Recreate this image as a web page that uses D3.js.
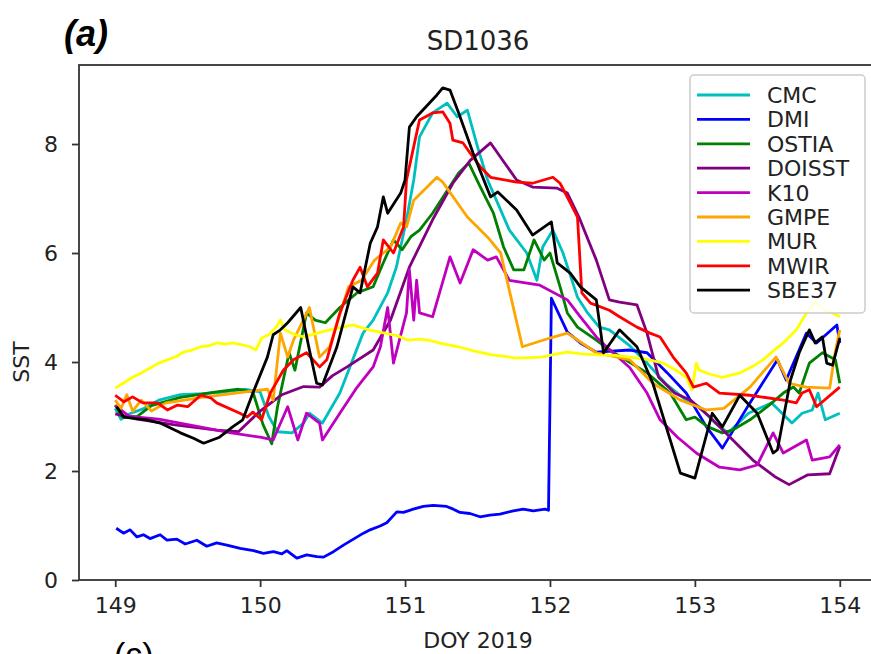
<!DOCTYPE html>
<html>
<head>
    <meta charset="utf-8">
    <title>SD1036</title>
    <style>
        body { margin: 0; background: white; }
        svg { font-family: 'DejaVu Sans', sans-serif; }
    </style>
</head>
<body>
    <div id="chart"></div>

    <script src="https://cdn.jsdelivr.net/npm/d3@7"></script>

    <script>
        // [DOY, SST]
        const cmc = [[149.0,3.15],[149.04,2.95],[149.1,3.05],[149.2,3.15],[149.3,3.3],[149.45,3.4],[149.6,3.42],[149.75,3.45],[149.9,3.5],[150.0,3.45],[150.06,3.0],[150.12,2.72],[150.22,2.7],[150.3,2.88],[150.34,3.06],[150.43,2.88],[150.55,3.43],[150.71,4.53],[150.78,4.77],[150.88,5.27],[150.94,5.74],[151.01,6.61],[151.06,7.34],[151.1,8.13],[151.19,8.57],[151.29,8.75],[151.36,8.5],[151.43,8.62],[151.5,7.95],[151.57,7.34],[151.63,6.97],[151.72,6.42],[151.84,6.0],[151.91,5.5],[151.95,6.11],[152.02,6.42],[152.09,6.0],[152.19,5.19],[152.26,4.9],[152.34,4.64],[152.41,4.59],[152.55,4.3],[152.67,3.98],[152.8,3.6],[152.94,3.3],[153.03,3.18],[153.14,2.88],[153.23,2.7],[153.37,3.06],[153.53,3.25],[153.67,2.88],[153.74,3.06],[153.81,3.12],[153.85,3.43],[153.9,2.94],[154.0,3.06]];

        const dmi = [[149.007,0.95],[149.057,0.86],[149.103,0.92],[149.15,0.79],[149.195,0.83],[149.24,0.76],[149.31,0.83],[149.357,0.73],[149.425,0.75],[149.483,0.66],[149.563,0.73],[149.632,0.62],[149.70,0.68],[149.77,0.64],[149.862,0.58],[149.954,0.54],[150.023,0.49],[150.092,0.52],[150.15,0.48],[150.184,0.54],[150.253,0.40],[150.322,0.46],[150.391,0.43],[150.437,0.42],[150.506,0.52],[150.575,0.64],[150.644,0.75],[150.713,0.86],[150.759,0.92],[150.828,0.99],[150.874,1.05],[150.943,1.25],[150.989,1.24],[151.057,1.30],[151.126,1.35],[151.195,1.37],[151.287,1.35],[151.333,1.30],[151.379,1.24],[151.448,1.22],[151.517,1.16],[151.586,1.19],[151.655,1.21],[151.747,1.27],[151.816,1.30],[151.885,1.27],[151.966,1.30],[151.99,1.28],[152.01,5.17],[152.12,4.55],[152.21,4.35],[152.32,4.18],[152.55,4.22],[152.67,4.17],[152.81,3.8],[152.94,3.43],[153.08,2.81],[153.19,2.42],[153.38,3.25],[153.57,4.04],[153.63,3.67],[153.77,4.53],[153.84,4.35],[153.98,4.68],[154.0,4.35]];

        const ostia = [[149.0,3.21],[149.05,2.99],[149.15,3.0],[149.25,3.2],[149.45,3.35],[149.7,3.45],[149.85,3.5],[149.95,3.45],[150.02,2.85],[150.08,2.5],[150.12,3.18],[150.2,4.17],[150.24,3.85],[150.32,4.9],[150.38,4.77],[150.45,4.72],[150.55,5.0],[150.67,5.27],[150.78,5.38],[150.85,5.82],[150.92,6.24],[150.98,6.06],[151.04,6.3],[151.1,6.42],[151.19,6.73],[151.28,7.1],[151.37,7.47],[151.44,7.65],[151.52,7.21],[151.61,6.73],[151.68,6.11],[151.75,5.69],[151.82,5.69],[151.89,6.24],[151.96,5.87],[152.0,6.0],[152.07,5.38],[152.12,4.9],[152.19,4.64],[152.32,4.4],[152.41,4.22],[152.67,3.8],[152.83,3.43],[152.94,2.94],[153.0,2.99],[153.09,2.81],[153.19,2.7],[153.26,2.75],[153.38,2.94],[153.5,3.18],[153.61,3.43],[153.68,3.54],[153.72,3.43],[153.79,3.98],[153.88,4.17],[153.97,4.04],[154.0,3.61]];

        const doisst = [[149.0,3.05],[149.15,2.95],[149.4,2.85],[149.7,2.75],[149.85,2.72],[150.0,3.1],[150.15,3.4],[150.3,3.55],[150.41,3.54],[150.5,3.75],[150.6,3.91],[150.78,4.22],[150.9,4.77],[151.03,5.74],[151.19,6.61],[151.33,7.28],[151.45,7.7],[151.59,8.02],[151.77,7.34],[151.88,7.21],[152.05,7.19],[152.12,7.1],[152.2,6.66],[152.32,5.87],[152.41,5.14],[152.48,5.1],[152.6,5.05],[152.67,4.53],[152.75,3.72],[152.86,3.43],[152.97,3.3],[153.1,3.0],[153.25,2.6],[153.4,2.2],[153.55,1.9],[153.65,1.75],[153.78,1.93],[153.93,1.95],[154.0,2.45]];

        const k10 = [[149.0,3.2],[149.1,3.0],[149.3,2.95],[149.5,2.85],[149.8,2.7],[150.0,2.62],[150.09,2.57],[150.19,3.18],[150.26,2.57],[150.32,3.06],[150.41,2.88],[150.43,2.57],[150.55,3.06],[150.67,3.54],[150.78,3.91],[150.83,4.28],[150.88,5.0],[150.92,3.98],[151.01,4.9],[151.03,5.69],[151.06,4.77],[151.08,5.5],[151.1,4.9],[151.19,4.83],[151.31,5.93],[151.38,5.45],[151.47,6.06],[151.57,5.87],[151.63,5.93],[151.72,5.5],[151.93,5.41],[152.12,5.14],[152.21,4.83],[152.32,4.46],[152.39,4.28],[152.55,3.9],[152.67,3.43],[152.76,2.94],[152.88,2.62],[153.01,2.33],[153.17,2.07],[153.31,2.02],[153.43,2.11],[153.54,2.7],[153.61,2.33],[153.77,2.57],[153.81,2.2],[153.93,2.26],[154.0,2.48]];

        const gmpe = [[149.0,3.3],[149.04,3.15],[149.08,3.4],[149.12,3.1],[149.18,3.3],[149.25,3.1],[149.35,3.25],[149.6,3.35],[149.9,3.45],[150.05,3.5],[150.09,3.3],[150.14,4.53],[150.19,4.09],[150.23,4.4],[150.34,5.0],[150.41,4.09],[150.48,4.28],[150.61,5.38],[150.7,5.5],[150.79,5.87],[150.9,6.11],[150.97,6.55],[151.01,6.48],[151.06,6.97],[151.22,7.39],[151.26,7.3],[151.43,6.66],[151.57,6.29],[151.66,6.0],[151.81,4.28],[152.0,4.44],[152.12,4.53],[152.32,4.17],[152.55,4.04],[152.71,3.61],[152.9,3.3],[153.08,3.12],[153.2,3.15],[153.38,3.54],[153.56,4.09],[153.65,3.61],[153.77,3.54],[153.93,3.52],[153.97,4.2],[154.0,4.59]];

        const mur = [[149.0,3.52],[149.06,3.62],[149.12,3.72],[149.18,3.8],[149.24,3.89],[149.3,3.98],[149.36,4.04],[149.42,4.1],[149.47,4.18],[149.53,4.22],[149.59,4.28],[149.65,4.3],[149.7,4.35],[149.76,4.33],[149.81,4.35],[149.87,4.32],[149.93,4.28],[149.97,4.22],[150.01,4.44],[150.06,4.5],[150.11,4.64],[150.14,4.77],[150.17,4.59],[150.24,4.5],[150.3,4.46],[150.42,4.55],[150.53,4.62],[150.64,4.68],[150.75,4.59],[150.86,4.53],[150.95,4.48],[151.02,4.4],[151.1,4.42],[151.16,4.4],[151.27,4.33],[151.37,4.28],[151.48,4.2],[151.6,4.13],[151.7,4.1],[151.76,4.07],[151.85,4.08],[151.94,4.09],[152.05,4.15],[152.12,4.18],[152.22,4.15],[152.33,4.13],[152.45,4.12],[152.55,4.09],[152.67,4.05],[152.78,3.98],[152.87,3.85],[152.94,3.72],[152.98,3.49],[153.01,3.98],[153.03,3.85],[153.1,3.78],[153.19,3.72],[153.31,3.8],[153.4,3.92],[153.47,4.04],[153.54,4.2],[153.61,4.35],[153.7,4.59],[153.77,4.9],[153.83,5.1],[153.9,4.95],[153.95,4.9],[154.0,4.83]];

        const mwir = [[149.0,3.39],[149.06,3.27],[149.12,3.36],[149.19,3.25],[149.29,3.25],[149.36,3.12],[149.43,3.21],[149.5,3.18],[149.59,3.39],[149.66,3.34],[149.7,3.25],[149.86,3.06],[149.91,2.99],[149.95,3.08],[150.01,2.94],[150.07,3.43],[150.16,3.85],[150.23,4.04],[150.32,4.17],[150.41,3.91],[150.46,4.04],[150.55,4.9],[150.64,5.5],[150.69,5.74],[150.74,5.38],[150.81,5.63],[150.85,6.24],[150.92,6.0],[150.99,6.48],[151.01,7.34],[151.08,8.2],[151.1,8.44],[151.19,8.57],[151.26,8.59],[151.31,8.38],[151.33,8.07],[151.4,8.02],[151.45,7.83],[151.52,7.58],[151.59,7.39],[151.77,7.3],[151.88,7.28],[152.02,7.39],[152.07,7.28],[152.14,6.92],[152.19,6.66],[152.22,5.27],[152.28,5.08],[152.41,4.95],[152.48,4.83],[152.6,4.64],[152.69,4.53],[152.76,4.46],[152.85,4.09],[152.94,3.8],[152.99,3.54],[153.08,3.61],[153.17,3.43],[153.38,3.39],[153.61,3.3],[153.7,3.25],[153.74,3.43],[153.79,3.49],[153.84,3.18],[154.0,3.54]];

        const sbe37 = [[149.01,3.18],[149.06,2.99],[149.12,2.97],[149.22,2.94],[149.31,2.88],[149.45,2.7],[149.54,2.6],[149.61,2.51],[149.72,2.62],[149.81,2.81],[149.88,2.94],[149.95,3.43],[150.05,4.09],[150.09,4.5],[150.14,4.59],[150.19,4.72],[150.28,5.0],[150.34,4.22],[150.39,3.61],[150.43,3.58],[150.53,4.28],[150.64,5.38],[150.69,5.27],[150.76,6.18],[150.81,6.48],[150.85,7.03],[150.88,6.73],[150.97,7.1],[151.0,7.34],[151.03,8.31],[151.08,8.5],[151.22,8.9],[151.26,9.03],[151.31,8.99],[151.37,8.57],[151.47,7.83],[151.59,7.03],[151.64,7.12],[151.77,6.79],[151.88,6.33],[152.01,6.57],[152.05,5.82],[152.14,5.63],[152.21,5.38],[152.32,5.14],[152.37,4.17],[152.48,4.59],[152.6,4.28],[152.71,3.61],[152.9,1.96],[153.0,1.87],[153.12,3.06],[153.19,2.81],[153.31,3.39],[153.43,3.06],[153.54,2.33],[153.57,2.39],[153.66,3.67],[153.72,4.17],[153.79,4.59],[153.83,4.35],[153.88,4.46],[153.91,3.98],[153.95,3.94],[154.0,4.44]];

        const seriesNames = ["CMC", "DMI", "OSTIA", "DOISST", "K10", "GMPE", "MUR", "MWIR", "SBE37"];
        const seriesData = [cmc, dmi, ostia, doisst, k10, gmpe, mur, mwir, sbe37];
        const seriesColors = ["#00bfbf", "#0000ff", "#008000", "#800080", "#bf00bf", "#ffa500", "#ffff00", "#ff0000", "#000000"];

        const xTicks = [149, 150, 151, 152, 153, 154];
        const yTicks = [0, 2, 4, 6, 8];

        const [width, height] = [871, 654];
        const plot = {left: 79, right: 876, top: 65, bottom: 580};

        const svg = d3.select("#chart")
                        .append("svg")
                        .attr("width", width)
                        .attr("height", height);

        const x = d3.scaleLinear()
                    .domain([148.75, 154.25])
                    .range([plot.left, plot.right]);

        const y = d3.scaleLinear()
                    .domain([0, 9.45])
                    .range([plot.bottom, plot.top]);

        // lines, in plot order (SBE37 on top)
        const line = d3.line()
                        .x(d => x(d[0]))
                        .y(d => y(d[1]));

        svg.append("g")
            .selectAll("path")
            .data(seriesData)
            .enter().append("path")
            .attr("d", line)
            .attr("fill", "none")
            .attr("stroke", (d, i) => seriesColors[i])
            .attr("stroke-width", 2.8)
            .attr("stroke-linejoin", "round");

        // axes
        const xAxis = d3.axisBottom(x).tickValues(xTicks).tickFormat(d3.format("d")).tickSize(7).tickPadding(10);
        const yAxis = d3.axisLeft(y).tickValues(yTicks).tickFormat(d3.format("d")).tickSize(7).tickPadding(14);

        const gx = svg.append("g")
            .attr("transform", `translate(0, ${plot.bottom})`)
            .call(xAxis);
        const gy = svg.append("g")
            .attr("transform", `translate(${plot.left}, 0)`)
            .call(yAxis);

        [gx, gy].forEach(g => {
            g.select(".domain").remove();
            g.selectAll(".tick line").attr("stroke", "#333").attr("stroke-width", 1.8);
            g.selectAll(".tick text")
                .attr("font-family", "'DejaVu Sans', sans-serif")
                .attr("font-size", 22)
                .attr("fill", "#222");
        });

        // frame
        svg.append("rect")
            .attr("x", plot.left)
            .attr("y", plot.top)
            .attr("width", plot.right - plot.left)
            .attr("height", plot.bottom - plot.top)
            .attr("fill", "none")
            .attr("stroke", "#333")
            .attr("stroke-width", 1.8);

        // titles
        svg.append("text")
            .attr("x", 478)
            .attr("y", 50)
            .attr("text-anchor", "middle")
            .attr("font-size", 26)
            .attr("fill", "#222")
            .text("SD1036");

        svg.append("text")
            .attr("x", 478)
            .attr("y", 648)
            .attr("text-anchor", "middle")
            .attr("font-size", 22)
            .attr("fill", "#222")
            .text("DOY 2019");

        svg.append("text")
            .attr("transform", "translate(29, 362) rotate(-90)")
            .attr("text-anchor", "middle")
            .attr("font-size", 22)
            .attr("fill", "#222")
            .text("SST");

        svg.append("text")
            .attr("x", 64)
            .attr("y", 46)
            .attr("font-family", "'Liberation Sans', sans-serif")
            .attr("font-weight", "bold")
            .attr("font-style", "italic")
            .attr("font-size", 36)
            .attr("fill", "#000")
            .text("(a)");

        // next panel's label, cut by the bottom edge as in the figure
        svg.append("text")
            .attr("x", 114)
            .attr("y", 666)
            .attr("font-family", "'Liberation Sans', sans-serif")
            .attr("font-size", 34)
            .attr("fill", "#000")
            .text("(c)");

        // legend
        const legend = svg.append("g");
        legend.append("rect")
            .attr("x", 690)
            .attr("y", 75)
            .attr("width", 175)
            .attr("height", 238)
            .attr("rx", 4)
            .attr("fill", "white")
            .attr("fill-opacity", 0.85)
            .attr("stroke", "#ccc")
            .attr("stroke-width", 1.5);

        const items = legend.selectAll(".item")
            .data(seriesNames)
            .enter().append("g")
            .attr("class", "item")
            .attr("transform", (d, i) => `translate(0, ${95 + i * 24.4})`);

        items.append("line")
            .attr("x1", 697)
            .attr("x2", 750)
            .attr("stroke", (d, i) => seriesColors[i])
            .attr("stroke-width", 2.8);

        items.append("text")
            .attr("x", 767)
            .attr("dy", "0.36em")
            .attr("font-size", 22)
            .attr("fill", "#222")
            .text(d => d);
    </script>
</body>
</html>
